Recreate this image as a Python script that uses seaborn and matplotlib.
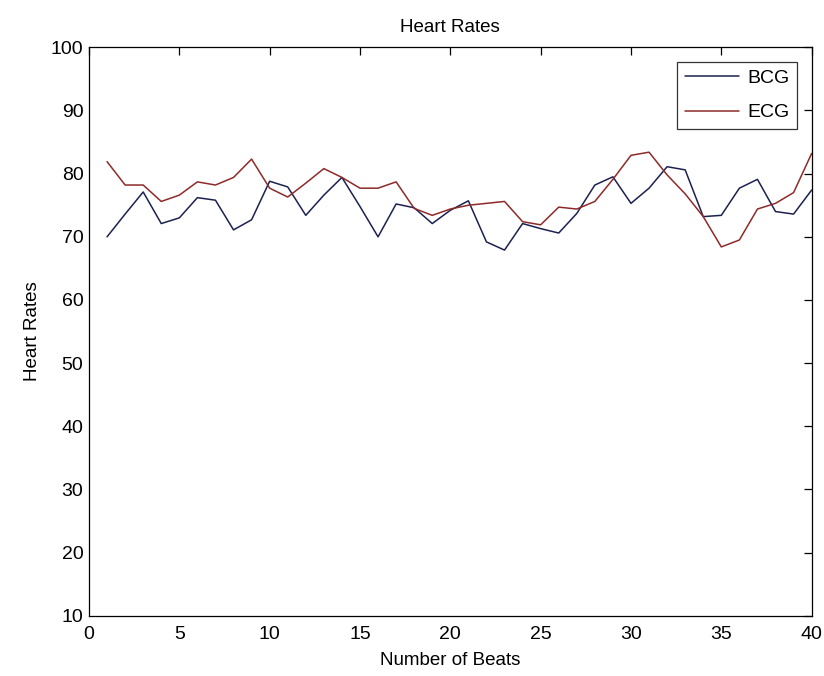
import numpy as np
import pandas as pd
import matplotlib
matplotlib.use("Agg")
import matplotlib.pyplot as plt
import seaborn as sns

# beat index
beats = list(range(1, 41))
# heart rates
bcg = [70.0, 73.6, 77.1, 72.1, 73.0, 76.2, 75.8, 71.1, 72.7, 78.8,
       77.9, 73.4, 76.6, 79.4, 74.8, 70.0, 75.2, 74.6, 72.1, 74.2,
       75.7, 69.2, 67.9, 72.1, 71.3, 70.6, 73.7, 78.2, 79.5, 75.3,
       77.7, 81.1, 80.6, 73.2, 73.4, 77.7, 79.1, 74.0, 73.6, 77.4]
ecg = [81.9, 78.2, 78.2, 75.6, 76.6, 78.7, 78.2, 79.4, 82.3, 77.7,
       76.3, 78.5, 80.8, 79.4, 77.7, 77.7, 78.7, 74.5, 73.4, 74.4,
       75.0, 75.3, 75.6, 72.4, 71.9, 74.7, 74.4, 75.6, 79.1, 82.9,
       83.4, 79.8, 76.8, 73.2, 68.4, 69.5, 74.4, 75.3, 77.0, 83.2]

df = pd.DataFrame({"beat": beats * 2,
                   "rate": bcg + ecg,
                   "signal": ["BCG"] * 40 + ["ECG"] * 40})

sns.set_style("white")
plt.rcParams["font.family"] = ["Liberation Sans", "DejaVu Sans"]
plt.rcParams["text.color"] = "black"
plt.rcParams["axes.labelcolor"] = "black"

fig = plt.figure(figsize=(8.24, 6.76), dpi=100)
ax = fig.add_axes([0.108, 0.089, 0.877, 0.841])

sns.lineplot(data=df, x="beat", y="rate", hue="signal",
             palette={"BCG": "#1c2150", "ECG": "#8e2a2a"},
             linewidth=1.1, ax=ax)

ax.set_xlim(0, 40)
ax.set_ylim(10, 100)
ax.set_xticks(range(0, 41, 5))
ax.set_yticks(range(10, 101, 10))
ax.tick_params(direction="in", top=True, right=True, length=6,
               width=0.9, labelsize=14, colors="black")
ax.tick_params(axis="x", pad=7)
ax.tick_params(axis="y", pad=4)
for s in ax.spines.values():
    s.set_color("black")
    s.set_linewidth(0.9)

ax.set_title("Heart Rates", fontsize=13.5, pad=11, color="black")
ax.set_xlabel("Number of Beats", fontsize=13.5, labelpad=7)
ax.set_ylabel("Heart Rates", fontsize=13.5, labelpad=7)

leg = ax.legend(loc="upper right", fontsize=14, frameon=True,
                fancybox=False, handlelength=2.8, borderaxespad=0.75,
                handletextpad=0.4, borderpad=0.4, labelspacing=0.85)
leg.get_frame().set_edgecolor("black")
leg.get_frame().set_linewidth(0.9)
for t in leg.get_texts():
    t.set_color("black")

fig.savefig("out.png", dpi=100)
